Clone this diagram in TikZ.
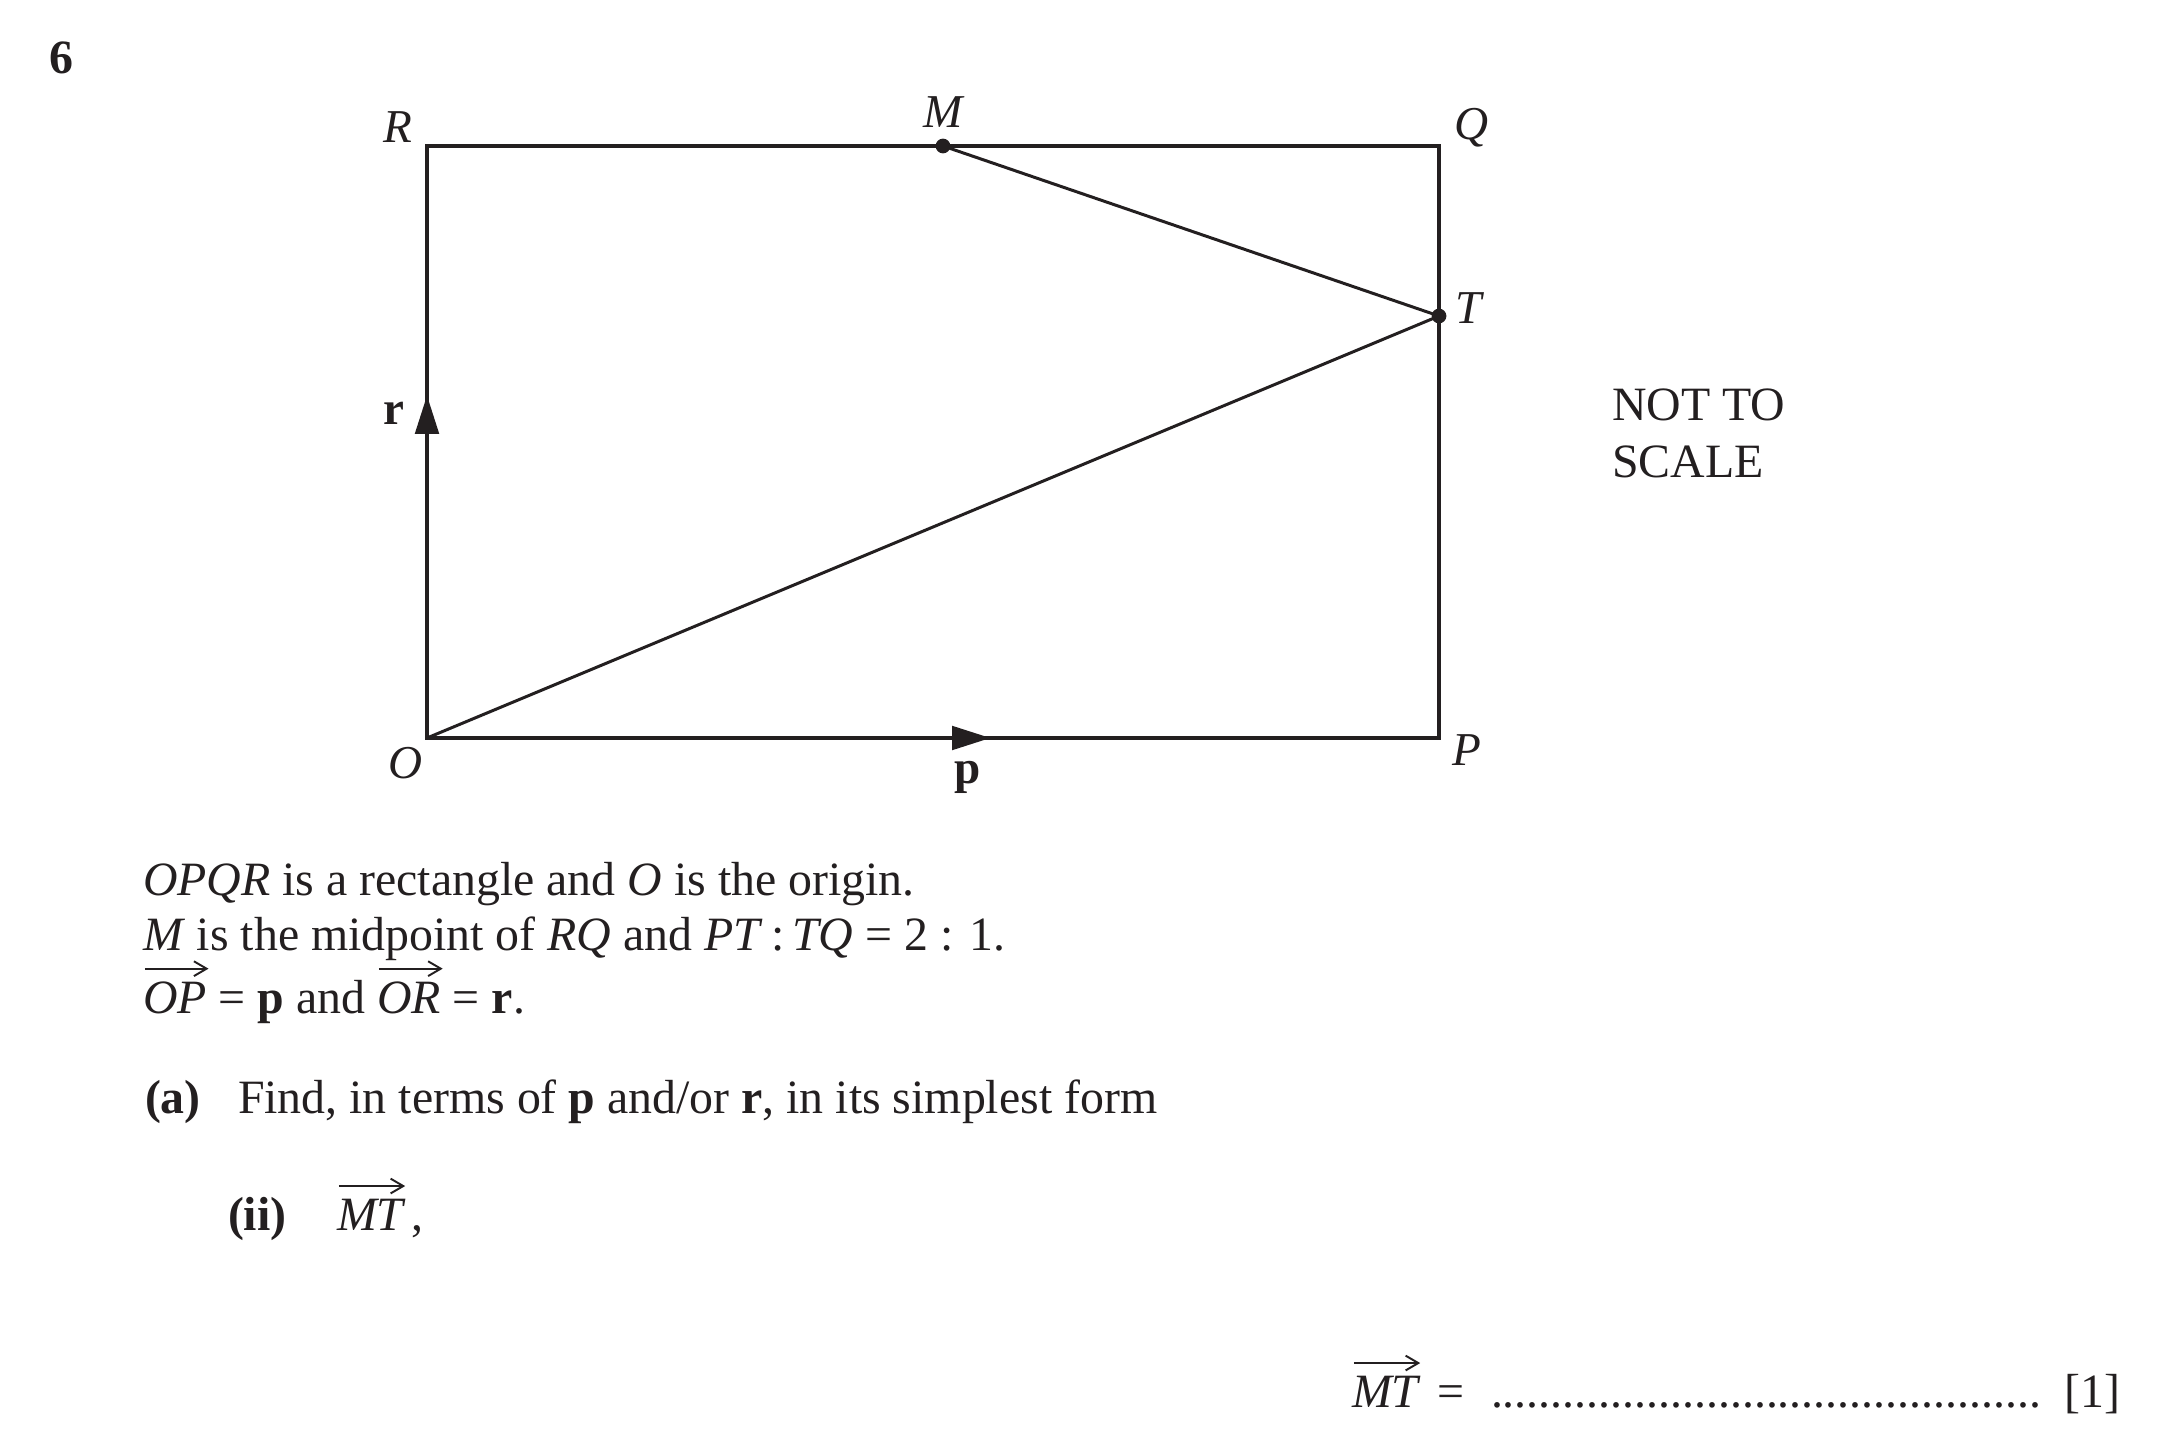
\documentclass[tikz,border=0pt]{standalone}
\usepackage{fontspec}
\setmainfont{Liberation Serif}
\usetikzlibrary{arrows.meta,decorations.markings}
\definecolor{ink}{HTML}{231F20}
\begin{document}
\begin{tikzpicture}[x=0.01cm,y=-0.01cm,
  every node/.style={inner sep=0pt,outer sep=0pt,text=ink,font=\fontsize{13.6}{16}\selectfont},
  frame/.style={line width=1.3pt,draw=ink,line join=miter},
  slim/.style={line width=0.85pt,draw=ink},
  vecmark/.style={postaction={decorate,decoration={markings,
      mark=at position #1 with {\arrow[ink]{Triangle[length=11pt,width=6.6pt]}}}}},
  ptlabel/.style={font=\fontsize{13.4}{16}\selectfont\itshape},
  veclabel/.style={font=\fontsize{13.4}{16}\selectfont\bfseries},
  vname/.style={anchor=base west,font=\fontsize{13.6}{16}\selectfont\itshape},
  vecbar/.style={draw=ink,line width=0.55pt,-{Straight Barb[length=3.6pt,width=4.2pt]}},
  txt/.style={anchor=base west},
  pt/.style={fill=ink}]
\useasboundingbox (0,0) rectangle (2167,1455);
% points
\coordinate (O) at (427,738);
\coordinate (P) at (1439,738);
\coordinate (Q) at (1439,146);
\coordinate (R) at (427,146);
\coordinate (M) at (943,146);
\coordinate (T) at (1439,316);
% figure
\draw[frame] (O) -- (P) -- (Q) -- (R) -- cycle;
\draw[frame,vecmark=0.579] (O) -- (R);
\draw[frame,vecmark=0.557] (O) -- (P);
\draw[slim] (M) -- (T) -- (O);
\fill[pt] (M) circle[radius=2.1pt];
\fill[pt] (T) circle[radius=2.1pt];
% labels
\node[font=\fontsize{13.6}{16}\selectfont\bfseries,anchor=base west] (num) at (49,74) {6};
\node[ptlabel,anchor=base east] (lR) at (412,143) {R};
\node[ptlabel,anchor=base] (lM) at (943,128) {M};
\node[ptlabel,anchor=base west] (lQ) at (1454,140) {Q};
\node[ptlabel,anchor=base west] (lT) at (1455,324) {T};
\node[ptlabel,anchor=base west] (lP) at (1452,765) {P};
\node[ptlabel,anchor=base west] (lO) at (388,778) {O};
\node[veclabel,anchor=base west] (lr) at (383,424) {r};
\node[veclabel,anchor=base] (lp) at (968,783) {p};
\node[txt] (nts1) at (1612,421) {NOT TO};
\node[txt] (nts2) at (1612,478) {SCALE};
% text
\node[txt] (t1) at (143,895) {\textit{OPQR} is a rectangle and \textit{O} is the origin.};
\node[txt] (t2) at (143,950) {\textit{M} is the midpoint of \textit{RQ} and \textit{PT}\,:\,\textit{TQ} = 2 : 1.};
\node[vname] (vOP) at (143,1013) {OP};
\node[txt] (t3a) at (vOP.base east) {\ = \textbf{p} and\ \mbox{}};
\node[vname] (vOR) at (t3a.base east) {OR};
\node[txt] (t3b) at (vOR.base east) {\ = \textbf{r}.};
\draw[vecbar] ([xshift=0.5pt,yshift=3.6pt]vOP.north west) -- ([xshift=0.5pt,yshift=3.6pt]vOP.north east);
\draw[vecbar] ([xshift=0.5pt,yshift=3.6pt]vOR.north west) -- ([xshift=0.5pt,yshift=3.6pt]vOR.north east);
\node[txt,font=\fontsize{13.6}{16}\selectfont\bfseries] (a) at (145,1113) {(a)};
\node[txt] (t4) at (238,1113) {Find, in terms of \textbf{p} and/or \textbf{r}, in its simplest form};
\node[txt,font=\fontsize{13.6}{16}\selectfont\bfseries] (ii) at (228,1230) {(ii)};
\node[vname] (vMT1) at (337,1230) {MT};
\node[txt] (t5) at (vMT1.base east) {\,,};
\draw[vecbar] ([xshift=0.5pt,yshift=3.6pt]vMT1.north west) -- ([xshift=0.5pt,yshift=3.6pt]vMT1.north east);
\node[vname] (vMT2) at (1352,1407) {MT};
\draw[vecbar] ([xshift=0.5pt,yshift=3.6pt]vMT2.north west) -- ([xshift=0.5pt,yshift=3.6pt]vMT2.north east);
\node[txt] (eq) at (1437,1407) {=};
\node[txt] (dots) at (1491,1407) {..............................................};
\node[anchor=base east] (mark) at (2120,1407) {[1]};
\end{tikzpicture}
\end{document}
